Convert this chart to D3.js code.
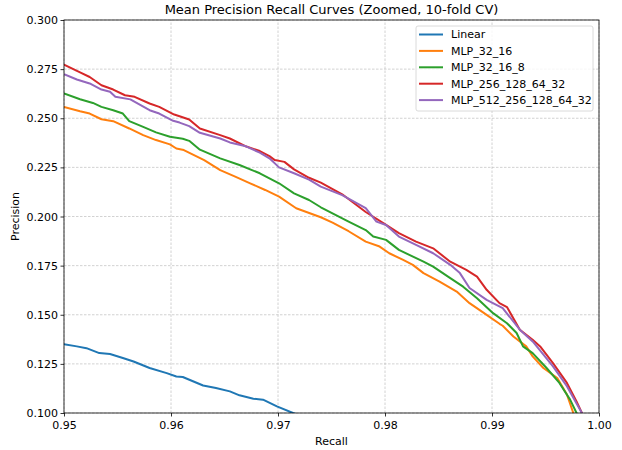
<!DOCTYPE html>
<html>
<head>
<meta charset="utf-8">
<script src="https://cdn.jsdelivr.net/npm/d3@7"></script>
<style>
  body { margin: 0; background: #fff; }
  svg { font-family: "DejaVu Sans", sans-serif; }
</style>
</head>
<body>
<div id="chart"></div>
<script>
var width = 622, height = 450;
var margin = {top: 20, right: 23, bottom: 37, left: 64};

var series_names = ["Linear", "MLP_32_16", "MLP_32_16_8", "MLP_256_128_64_32", "MLP_512_256_128_64_32"];
var series_colors = ["#1f77b4", "#ff7f0e", "#2ca02c", "#d62728", "#9467bd"];

var x_ticks = [0.95, 0.96, 0.97, 0.98, 0.99, 1.00];
var y_ticks = [0.100, 0.125, 0.150, 0.175, 0.200, 0.225, 0.250, 0.275, 0.300];

// recall, precision pairs
var linear = [
  [0.9500, 0.1350], [0.9512, 0.1339], [0.9521, 0.1330], [0.9533, 0.1305], [0.9543, 0.1300],
  [0.9555, 0.1280], [0.9565, 0.1262], [0.9580, 0.1229], [0.9596, 0.1203], [0.9605, 0.1186],
  [0.9611, 0.1183], [0.9630, 0.1140], [0.9642, 0.1127], [0.9655, 0.1110], [0.9664, 0.1090],
  [0.9677, 0.1073], [0.9686, 0.1068], [0.9699, 0.1034], [0.9714, 0.1000], [0.9722, 0.0985]
];
var mlp_32_16 = [
  [0.9500, 0.2558], [0.9515, 0.2536], [0.9524, 0.2524], [0.9535, 0.2495], [0.9546, 0.2485],
  [0.9561, 0.2448], [0.9574, 0.2414], [0.9586, 0.2389], [0.9599, 0.2367], [0.9605, 0.2346],
  [0.9612, 0.2338], [0.9631, 0.2287], [0.9646, 0.2236], [0.9660, 0.2203], [0.9674, 0.2169],
  [0.9688, 0.2135], [0.9701, 0.2101], [0.9717, 0.2042], [0.9740, 0.1996], [0.9751, 0.1969],
  [0.9766, 0.1925], [0.9782, 0.1872], [0.9795, 0.1847], [0.9804, 0.1813], [0.9817, 0.1779],
  [0.9826, 0.1754], [0.9836, 0.1712], [0.9851, 0.1669], [0.9867, 0.1618], [0.9879, 0.1559],
  [0.9895, 0.1499], [0.9907, 0.1454], [0.9910, 0.1444], [0.9920, 0.1389], [0.9932, 0.1339],
  [0.9938, 0.1288], [0.9948, 0.1229], [0.9961, 0.1178], [0.9970, 0.1094], [0.9976, 0.1000],
  [0.9978, 0.0970]
];
var mlp_32_16_8 = [
  [0.9500, 0.2626], [0.9515, 0.2597], [0.9527, 0.2578], [0.9535, 0.2558], [0.9546, 0.2541],
  [0.9555, 0.2524], [0.9561, 0.2485], [0.9574, 0.2456], [0.9586, 0.2428], [0.9599, 0.2406],
  [0.9611, 0.2396], [0.9617, 0.2385], [0.9627, 0.2340], [0.9646, 0.2296], [0.9664, 0.2262],
  [0.9683, 0.2220], [0.9701, 0.2169], [0.9715, 0.2118], [0.9729, 0.2084], [0.9740, 0.2047],
  [0.9766, 0.1974], [0.9782, 0.1931], [0.9789, 0.1898], [0.9801, 0.1881], [0.9813, 0.1830],
  [0.9836, 0.1770], [0.9845, 0.1745], [0.9861, 0.1686], [0.9873, 0.1643], [0.9886, 0.1584],
  [0.9901, 0.1508], [0.9914, 0.1457], [0.9923, 0.1407], [0.9929, 0.1339], [0.9938, 0.1305],
  [0.9951, 0.1229], [0.9963, 0.1153], [0.9973, 0.1068], [0.9979, 0.1000], [0.9981, 0.0970]
];
var mlp_256_128_64_32 = [
  [0.9500, 0.2773], [0.9515, 0.2733], [0.9524, 0.2710], [0.9535, 0.2668], [0.9546, 0.2646],
  [0.9557, 0.2617], [0.9566, 0.2609], [0.9580, 0.2575], [0.9589, 0.2558], [0.9603, 0.2519],
  [0.9608, 0.2510], [0.9617, 0.2494], [0.9627, 0.2448], [0.9646, 0.2414], [0.9655, 0.2397],
  [0.9669, 0.2359], [0.9683, 0.2333], [0.9692, 0.2307], [0.9697, 0.2287], [0.9706, 0.2278],
  [0.9715, 0.2240], [0.9729, 0.2197], [0.9740, 0.2172], [0.9760, 0.2113], [0.9782, 0.2023],
  [0.9801, 0.1957], [0.9813, 0.1915], [0.9829, 0.1872], [0.9845, 0.1838], [0.9861, 0.1770],
  [0.9876, 0.1728], [0.9886, 0.1694], [0.9895, 0.1627], [0.9907, 0.1559], [0.9914, 0.1539],
  [0.9926, 0.1424], [0.9938, 0.1373], [0.9945, 0.1339], [0.9957, 0.1254], [0.9970, 0.1153],
  [0.9979, 0.1059], [0.9984, 0.1000], [0.9986, 0.0970]
];
var mlp_512_256_128_64_32 = [
  [0.9500, 0.2724], [0.9512, 0.2697], [0.9524, 0.2677], [0.9535, 0.2646], [0.9543, 0.2635],
  [0.9548, 0.2609], [0.9562, 0.2596], [0.9580, 0.2541], [0.9589, 0.2524], [0.9602, 0.2487],
  [0.9608, 0.2478], [0.9617, 0.2460], [0.9627, 0.2426], [0.9646, 0.2397], [0.9655, 0.2377],
  [0.9669, 0.2359], [0.9683, 0.2325], [0.9692, 0.2296], [0.9701, 0.2250], [0.9715, 0.2220],
  [0.9729, 0.2188], [0.9740, 0.2152], [0.9760, 0.2109], [0.9782, 0.2042], [0.9792, 0.1974],
  [0.9801, 0.1957], [0.9813, 0.1898], [0.9829, 0.1856], [0.9845, 0.1813], [0.9861, 0.1754],
  [0.9870, 0.1712], [0.9879, 0.1636], [0.9895, 0.1576], [0.9910, 0.1534], [0.9926, 0.1424],
  [0.9938, 0.1364], [0.9957, 0.1237], [0.9970, 0.1136], [0.9984, 0.1000], [0.9986, 0.0970]
];

var all_series = [linear, mlp_32_16, mlp_32_16_8, mlp_256_128_64_32, mlp_512_256_128_64_32];

var svg = d3.select("#chart").append("svg")
    .attr("width", width)
    .attr("height", height);

var x = d3.scaleLinear().domain([0.95, 1.00]).range([margin.left, width - margin.right]);
var y = d3.scaleLinear().domain([0.100, 0.300]).range([height - margin.bottom, margin.top]);

svg.append("clipPath").attr("id", "plot-clip")
  .append("rect")
    .attr("x", x(0.95)).attr("y", y(0.3))
    .attr("width", x(1.0) - x(0.95)).attr("height", y(0.1) - y(0.3));

// grid
var grid = svg.append("g");
grid.selectAll(".gx").data(x_ticks).join("line")
    .attr("x1", d => x(d)).attr("x2", d => x(d))
    .attr("y1", y(0.1)).attr("y2", y(0.3))
    .attr("stroke", "#b0b0b0").attr("stroke-width", 0.8)
    .attr("stroke-dasharray", "2.5,1.5").attr("opacity", 0.7);
grid.selectAll(".gy").data(y_ticks).join("line")
    .attr("y1", d => y(d)).attr("y2", d => y(d))
    .attr("x1", x(0.95)).attr("x2", x(1.0))
    .attr("stroke", "#b0b0b0").attr("stroke-width", 0.8)
    .attr("stroke-dasharray", "2.5,1.5").attr("opacity", 0.7);

// curves
var line = d3.line().x(d => x(d[0])).y(d => y(d[1]));
svg.append("g").attr("clip-path", "url(#plot-clip)")
  .selectAll("path").data(all_series).join("path")
    .attr("d", line)
    .attr("fill", "none")
    .attr("stroke", (d, i) => series_colors[i])
    .attr("stroke-width", 2)
    .attr("stroke-linejoin", "round");

// axes
var xAxis = svg.append("g")
    .attr("transform", "translate(0," + y(0.1) + ")")
    .call(d3.axisBottom(x).tickValues(x_ticks).tickFormat(d3.format(".2f")).tickSizeOuter(0).tickSize(3.5));
var yAxis = svg.append("g")
    .attr("transform", "translate(" + x(0.95) + ",0)")
    .call(d3.axisLeft(y).tickValues(y_ticks).tickFormat(d3.format(".3f")).tickSizeOuter(0).tickSize(3.5));
[xAxis, yAxis].forEach(function(a) {
  a.select(".domain").remove();
  a.selectAll("text").attr("font-size", 11).attr("fill", "#000").attr("font-family", "DejaVu Sans");
  a.selectAll(".tick line").attr("stroke", "#000").attr("stroke-width", 0.8);
});
xAxis.selectAll("text").attr("dy", "1em").attr("y", 4.5);
yAxis.selectAll("text").attr("x", -6);

// frame
svg.append("rect")
    .attr("x", x(0.95)).attr("y", y(0.3))
    .attr("width", x(1.0) - x(0.95)).attr("height", y(0.1) - y(0.3))
    .attr("fill", "none").attr("stroke", "#000").attr("stroke-width", 0.8);

// labels
svg.append("text")
    .attr("x", (x(0.95) + x(1.0)) / 2).attr("y", 14)
    .attr("text-anchor", "middle").attr("font-size", 13)
    .text("Mean Precision Recall Curves (Zoomed, 10-fold CV)");
svg.append("text")
    .attr("x", (x(0.95) + x(1.0)) / 2).attr("y", 445)
    .attr("text-anchor", "middle").attr("font-size", 11)
    .text("Recall");
svg.append("text")
    .attr("transform", "translate(19," + ((y(0.1) + y(0.3)) / 2) + ") rotate(-90)")
    .attr("text-anchor", "middle").attr("font-size", 11)
    .text("Precision");

// legend
var legend = svg.append("g").attr("transform", "translate(416,26)");
legend.append("rect")
    .attr("width", 177).attr("height", 85).attr("rx", 2)
    .attr("fill", "#fff").attr("fill-opacity", 0.8)
    .attr("stroke", "#d0d0d0").attr("stroke-width", 0.8);
var items = legend.selectAll(".item").data(series_names).join("g")
    .attr("transform", (d, i) => "translate(0," + (8.5 + i * 16.4) + ")");
items.append("line")
    .attr("x1", 3).attr("x2", 27)
    .attr("stroke", (d, i) => series_colors[i]).attr("stroke-width", 2);
items.append("text")
    .attr("x", 35).attr("dy", "0.35em").attr("font-size", 11)
    .text(d => d);
</script>
</body>
</html>
